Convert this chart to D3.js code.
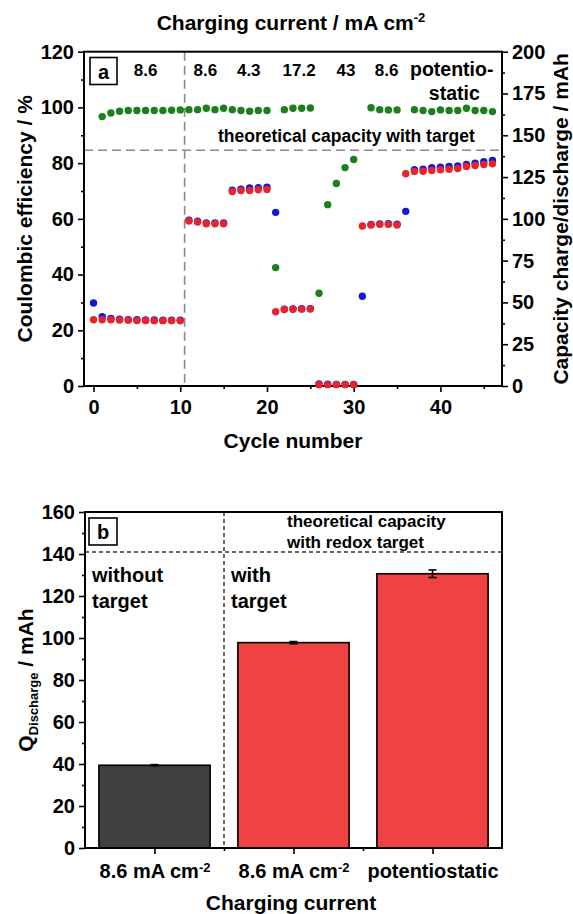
<!DOCTYPE html>
<html>
<head>
<meta charset="utf-8">
<script src="https://cdn.jsdelivr.net/npm/d3@7"></script>
<style>
  body { margin: 0; background: #fff; }
  svg { display: block; font-family: "Liberation Sans", Arial, sans-serif; font-weight: bold; }
</style>
</head>
<body>
<svg id="fig" width="573" height="914"></svg>
<script>
// ---- Panel a: cycling data ----
const cycles = [0,1,2,3,4,5,6,7,8,9,10,11,12,13,14,15,16,17,18,19,20,21,22,23,
  24,25,26,27,28,29,30,31,32,33,34,35,36,37,38,39,40,41,42,43,44,45,46];

// Coulombic efficiency in % (null where the value lies outside 0-120 %)
const coulombicEff = [null,96.7,98.0,98.6,98.9,98.9,98.9,98.9,98.9,99.0,99.1,
  99.2,99.2,99.7,99.2,99.7,99.2,98.9,98.6,98.9,98.9,
  42.5,99.2,99.7,99.7,99.8,
  33.3,65.1,72.7,78.4,81.3,
  null,99.9,99.2,99.1,99.1,
  null,99.2,98.9,98.5,99.1,98.9,98.9,99.7,98.9,98.9,98.5];

// Charge capacity in mAh
const chargeCap = [49.7,41.4,40.4,40.0,39.7,39.6,39.5,39.5,39.4,39.4,39.3,
  99.2,98.6,97.6,97.6,97.5,117.2,117.8,118.5,118.6,119.0,
  103.9,46.0,46.1,46.2,46.3,
  1.2,1.1,1.0,1.0,1.0,
  53.7,96.6,97.0,97.1,96.8,
  104.5,129.4,129.7,130.6,130.9,131.3,131.7,132.5,133.3,134.2,135.0];

// Discharge capacity in mAh
const dischargeCap = [39.6,39.6,39.6,39.5,39.4,39.2,39.2,39.1,39.1,39.1,39.0,
  98.7,98.1,97.1,97.1,97.1,116.4,117.0,117.0,117.4,117.6,
  44.4,45.8,45.9,46.0,46.1,
  0.8,0.8,0.8,0.8,0.8,
  95.7,96.3,96.7,96.7,96.3,
  127.0,128.4,128.5,128.9,129.4,129.7,130.1,131.3,131.9,132.5,132.9];

const currentSteps = ["8.6","8.6","4.3","17.2","43","8.6"];
const theoreticalCapacity = 141;   // mAh
const targetAddedAfter = 10.5;     // cycle at which the redox target was added

// ---- Panel b: discharge capacity summary ----
const categories = ["8.6 mA cm-2", "8.6 mA cm-2", "potentiostatic"];
const qDischarge = [39.4, 97.8, 130.6];
const qError = [0.3, 0.5, 1.8];

const yTicksA = [0,20,40,60,80,100,120];
const yTicksR = [0,25,50,75,100,125,150,175,200];
const xTicksA = [0,10,20,30,40];
const yTicksB = [0,20,40,60,80,100,120,140,160];

const svg = d3.select("#fig");
const FONT = '"Liberation Sans", Arial, sans-serif';
const green = "#1b7f1b", blue = "#1616d6", red = "#e8232b";
const TICK_FS = 20, TITLE_FS = 21;

function styleAxis(g, fs) {
  g.select(".domain").remove();
  g.selectAll("line").attr("stroke", "#000").attr("stroke-width", 1.6);
  g.selectAll("text").attr("font-size", fs).attr("font-weight", "bold")
    .attr("fill", "#000").attr("font-family", FONT);
}

// ================= Panel a =================
const ax = { l: 84, r: 502, t: 51.7, b: 386 };
const xA = d3.scaleLinear().domain([-1.1, 47.1]).range([ax.l, ax.r]);
const yL = d3.scaleLinear().domain([0, 120]).range([ax.b, ax.t]);
const yR = d3.scaleLinear().domain([0, 200]).range([ax.b, ax.t]);

const pa = svg.append("g");

// dashed reference lines
pa.append("line")
  .attr("x1", ax.l).attr("x2", ax.r)
  .attr("y1", yR(theoreticalCapacity)).attr("y2", yR(theoreticalCapacity))
  .attr("stroke", "#8a8a8a").attr("stroke-width", 1.6).attr("stroke-dasharray", "9,5");
pa.append("line")
  .attr("x1", xA(targetAddedAfter)).attr("x2", xA(targetAddedAfter))
  .attr("y1", ax.t).attr("y2", ax.b)
  .attr("stroke", "#8a8a8a").attr("stroke-width", 1.6).attr("stroke-dasharray", "9,5");

// axes
pa.append("g").attr("transform", `translate(0,${ax.b})`)
  .call(d3.axisBottom(xA).tickValues(xTicksA).tickSize(6).tickPadding(8).tickSizeOuter(0))
  .call(g => styleAxis(g, TICK_FS));
pa.append("g").attr("transform", `translate(0,${ax.b})`)
  .call(d3.axisBottom(xA).tickValues([5,15,25,35,45]).tickSize(3).tickFormat(""))
  .call(g => styleAxis(g, TICK_FS));
pa.append("g").attr("transform", `translate(${ax.l},0)`)
  .call(d3.axisLeft(yL).tickValues(yTicksA).tickSize(6).tickPadding(4))
  .call(g => styleAxis(g, TICK_FS));
pa.append("g").attr("transform", `translate(${ax.l},0)`)
  .call(d3.axisLeft(yL).tickValues([10,30,50,70,90,110]).tickSize(3).tickFormat(""))
  .call(g => styleAxis(g, TICK_FS));
pa.append("g").attr("transform", `translate(${ax.r},0)`)
  .call(d3.axisRight(yR).tickValues(yTicksR).tickSize(6).tickPadding(4))
  .call(g => styleAxis(g, TICK_FS));
pa.append("g").attr("transform", `translate(${ax.r},0)`)
  .call(d3.axisRight(yR).tickValues([12.5,37.5,62.5,87.5,112.5,137.5,162.5,187.5]).tickSize(3).tickFormat(""))
  .call(g => styleAxis(g, TICK_FS));

// frame
pa.append("rect").attr("x", ax.l).attr("y", ax.t)
  .attr("width", ax.r - ax.l).attr("height", ax.b - ax.t)
  .attr("fill", "none").attr("stroke", "#000").attr("stroke-width", 2);

// data points: charge, discharge, then efficiency
const r = 3.7;
pa.append("g").selectAll("circle")
  .data(cycles.map((c, i) => ({ c, v: chargeCap[i] })))
  .join("circle").attr("cx", d => xA(d.c)).attr("cy", d => yR(d.v)).attr("r", r).attr("fill", blue);
pa.append("g").selectAll("circle")
  .data(cycles.map((c, i) => ({ c, v: dischargeCap[i] })))
  .join("circle").attr("cx", d => xA(d.c)).attr("cy", d => yR(d.v)).attr("r", r).attr("fill", red);
pa.append("g").selectAll("circle")
  .data(cycles.map((c, i) => ({ c, v: coulombicEff[i] })).filter(d => d.v !== null))
  .join("circle").attr("cx", d => xA(d.c)).attr("cy", d => yL(d.v)).attr("r", r).attr("fill", green);

// panel letter
pa.append("rect").attr("x", 90).attr("y", 57.5).attr("width", 27).attr("height", 27)
  .attr("fill", "#fff").attr("stroke", "#000").attr("stroke-width", 1.6);
pa.append("text").attr("x", 103.5).attr("y", 78.5).attr("text-anchor", "middle")
  .attr("font-size", 20).text("a");

// charging current of each step
const stepCenters = [6.0, 12.9, 17.9, 23.7, 29.1, 33.8];
pa.append("g").selectAll("text").data(currentSteps).join("text")
  .attr("x", (d, i) => xA(stepCenters[i])).attr("y", 76)
  .attr("text-anchor", "middle").attr("font-size", 17).text(d => d);
pa.append("text").attr("x", xA(41.3)).attr("y", 76).attr("text-anchor", "middle")
  .attr("font-size", 19.5).text("potentio-");
pa.append("text").attr("x", xA(41.6)).attr("y", 100).attr("text-anchor", "middle")
  .attr("font-size", 19.5).text("static");

pa.append("text").attr("x", 218).attr("y", 142).attr("font-size", 17.5)
  .text("theoretical capacity with target");

// axis titles
const topTitle = svg.append("text").attr("x", 291).attr("y", 30)
  .attr("text-anchor", "middle").attr("font-size", TITLE_FS);
topTitle.append("tspan").text("Charging current / mA cm");
topTitle.append("tspan").attr("font-size", 13).attr("dy", -8).text("-2");

svg.append("text").attr("x", 293).attr("y", 448).attr("text-anchor", "middle")
  .attr("font-size", TITLE_FS).text("Cycle number");
svg.append("text").attr("transform", `translate(32,${(ax.t + ax.b) / 2}) rotate(-90)`)
  .attr("text-anchor", "middle").attr("font-size", TITLE_FS).text("Coulombic efficiency / %");
svg.append("text").attr("transform", `translate(568,${(ax.t + ax.b) / 2}) rotate(-90)`)
  .attr("text-anchor", "middle").attr("font-size", TITLE_FS).text("Capacity charge/discharge / mAh");

// ================= Panel b =================
const bx = { l: 85, r: 502, t: 512, b: 848 };
const xB = d3.scaleLinear().domain([0.5, 3.5]).range([bx.l, bx.r]);
const yB = d3.scaleLinear().domain([0, 160]).range([bx.b, bx.t]);
const pb = svg.append("g");

// reference lines
pb.append("line").attr("x1", bx.l).attr("x2", bx.r)
  .attr("y1", yB(theoreticalCapacity)).attr("y2", yB(theoreticalCapacity))
  .attr("stroke", "#333").attr("stroke-width", 1.5).attr("stroke-dasharray", "4,3");
pb.append("line").attr("x1", xB(1.5)).attr("x2", xB(1.5))
  .attr("y1", bx.t).attr("y2", bx.b)
  .attr("stroke", "#333").attr("stroke-width", 1.5).attr("stroke-dasharray", "4,3");

// bars
const barHalf = 0.4;
pb.append("g").selectAll("rect").data(qDischarge).join("rect")
  .attr("x", (d, i) => xB(i + 1 - barHalf))
  .attr("width", (d, i) => xB(i + 1 + barHalf) - xB(i + 1 - barHalf))
  .attr("y", d => yB(d)).attr("height", d => yB(0) - yB(d))
  .attr("fill", (d, i) => i === 0 ? "#404040" : "#ef4242")
  .attr("stroke", "#000").attr("stroke-width", 1.6);

// error bars
const eb = pb.append("g").attr("stroke", "#000").attr("stroke-width", 1.6);
qDischarge.forEach((q, i) => {
  const cx = xB(i + 1), lo = yB(q - qError[i]), hi = yB(q + qError[i]);
  eb.append("line").attr("x1", cx).attr("x2", cx).attr("y1", lo).attr("y2", hi);
  eb.append("line").attr("x1", cx - 4).attr("x2", cx + 4).attr("y1", lo).attr("y2", lo);
  eb.append("line").attr("x1", cx - 4).attr("x2", cx + 4).attr("y1", hi).attr("y2", hi);
});

// axes
pb.append("g").attr("transform", `translate(${bx.l},0)`)
  .call(d3.axisLeft(yB).tickValues(yTicksB).tickSize(6).tickPadding(4))
  .call(g => styleAxis(g, TICK_FS));
pb.append("g").attr("transform", `translate(${bx.l},0)`)
  .call(d3.axisLeft(yB).tickValues([10,30,50,70,90,110,130,150]).tickSize(3).tickFormat(""))
  .call(g => styleAxis(g, TICK_FS));
const xAxB = pb.append("g").attr("transform", `translate(0,${bx.b})`)
  .call(d3.axisBottom(xB).tickValues([1,2,3]).tickSize(6).tickPadding(10)
    .tickFormat((d, i) => categories[i]))
  .call(g => styleAxis(g, TICK_FS));
pb.append("g").attr("transform", `translate(0,${bx.b})`)
  .call(d3.axisBottom(xB).tickValues([1.5,2.5]).tickSize(3).tickFormat(""))
  .call(g => styleAxis(g, TICK_FS));

// category labels with superscript exponents
xAxB.selectAll(".tick text").each(function(d, i) {
  const t = d3.select(this);
  const m = categories[i].match(/^(.*cm)(-\d)$/);
  if (m) {
    t.text(null);
    t.append("tspan").text(m[1]);
    t.append("tspan").attr("font-size", 13).attr("dy", "-0.45em").text(m[2]);
  }
});

pb.append("rect").attr("x", bx.l).attr("y", bx.t)
  .attr("width", bx.r - bx.l).attr("height", bx.b - bx.t)
  .attr("fill", "none").attr("stroke", "#000").attr("stroke-width", 2);

// panel letter and annotations
pb.append("rect").attr("x", 89).attr("y", 518).attr("width", 28).attr("height", 27)
  .attr("fill", "#fff").attr("stroke", "#000").attr("stroke-width", 1.6);
pb.append("text").attr("x", 103).attr("y", 539).attr("text-anchor", "middle")
  .attr("font-size", 20).text("b");

pb.append("text").attr("x", 92).attr("y", 582).attr("font-size", 20).text("without");
pb.append("text").attr("x", 92).attr("y", 608).attr("font-size", 20).text("target");
pb.append("text").attr("x", 231).attr("y", 582).attr("font-size", 20).text("with");
pb.append("text").attr("x", 231).attr("y", 608).attr("font-size", 20).text("target");
pb.append("text").attr("x", 287).attr("y", 527).attr("font-size", 17).text("theoretical capacity");
pb.append("text").attr("x", 287).attr("y", 548).attr("font-size", 17).text("with redox target");

svg.append("text").attr("x", 291).attr("y", 910).attr("text-anchor", "middle")
  .attr("font-size", TITLE_FS).text("Charging current");

const qLabel = svg.append("text")
  .attr("transform", `translate(33,${(bx.t + bx.b) / 2}) rotate(-90)`)
  .attr("text-anchor", "middle").attr("font-size", TITLE_FS);
qLabel.append("tspan").text("Q");
qLabel.append("tspan").attr("font-size", 13).attr("dy", 5).text("Discharge");
qLabel.append("tspan").attr("dy", -5).text(" / mAh");
</script>
</body>
</html>
